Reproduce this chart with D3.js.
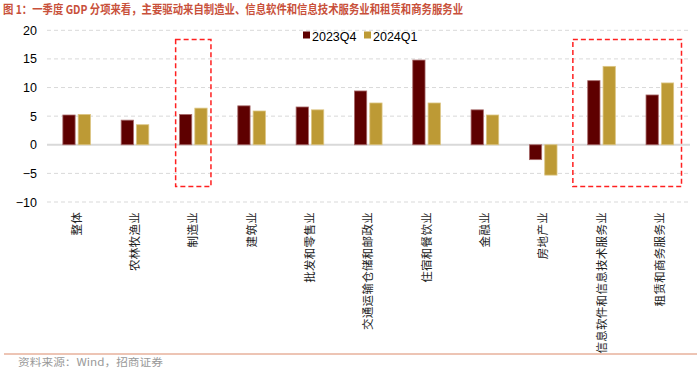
<!doctype html>
<html>
<head>
<meta charset="utf-8">
<script src="https://d3js.org/d3.v7.min.js"></script>
<style>
  body { margin: 0; background: #fff; }
  text { font-family: "Liberation Sans", Arial, sans-serif; }
  .cjk { font-family: "Noto Sans CJK SC", sans-serif; }
</style>
</head>
<body>
<script>
// data
var categories = ["整体", "农林牧渔业", "制造业", "建筑业", "批发和零售业", "交通运输仓储和邮政业",
  "住宿和餐饮业", "金融业", "房地产业", "信息软件和信息技术服务业", "租赁和商务服务业"];
var seriesNames = ["2023Q4", "2024Q1"];
var q42023 = [5.2, 4.3, 5.3, 6.8, 6.6, 9.4, 14.8, 6.1, -2.6, 11.2, 8.7];
var q1_2024 = [5.3, 3.5, 6.4, 5.9, 6.1, 7.3, 7.3, 5.2, -5.3, 13.7, 10.8];
var yTicks = [20, 15, 10, 5, 0, -5, -10];
var highlight = [["制造业"], ["信息软件和信息技术服务业", "租赁和商务服务业"]];
var boxRange = [18.4, -7.3];

var colors = ["#5E0000", "#BD9A35"];

var W = 700, H = 370;
var svg = d3.select("body").append("svg").attr("width", W).attr("height", H);

var x = d3.scaleBand().domain(categories).range([47.5, 689]).paddingInner(0).paddingOuter(0);
var y = d3.scaleLinear().domain([-10, 20]).range([202, 30.3]);
var x1 = d3.scaleBand().domain(seriesNames).range([0, x.bandwidth()]).paddingInner(0.2).paddingOuter(1.0);

// title
svg.append("text").attr("class", "cjk")
  .attr("x", 3).attr("y", 14)
  .attr("textLength", 460).attr("lengthAdjust", "spacingAndGlyphs")
  .style("font-size", "12px").style("font-weight", "bold").style("fill", "#C8503A")
  .text("图 1：一季度 GDP 分项来看，主要驱动来自制造业、信息软件和信息技术服务业和租赁和商务服务业");

// grid
svg.append("g").selectAll("line").data(yTicks).enter().append("line")
  .attr("x1", 47).attr("x2", 690)
  .attr("y1", d => y(d)).attr("y2", d => y(d))
  .style("stroke", "#D9D9D9")
  .style("stroke-width", d => d === 0 ? 2 : 1)
  .style("stroke-dasharray", d => d === 0 ? null : "4,3");

// y axis labels
var yAxis = svg.append("g").attr("transform", "translate(40,0)")
  .call(d3.axisLeft(y).tickValues(yTicks).tickSize(0).tickPadding(3));
yAxis.select(".domain").remove();
yAxis.selectAll("text").style("font-size", "12.5px").style("fill", "#000")
  .style("font-family", "'Liberation Sans', Arial, sans-serif");

// bars
var groups = svg.append("g").selectAll("g").data(categories).enter().append("g")
  .attr("transform", d => "translate(" + x(d) + ",0)");
groups.selectAll("rect").data((d, i) => [q42023[i], q1_2024[i]]).enter().append("rect")
  .attr("x", (d, j) => x1(seriesNames[j]))
  .attr("width", x1.bandwidth())
  .attr("y", d => y(Math.max(0, d)))
  .attr("height", d => Math.abs(y(d) - y(0)))
  .style("fill", (d, j) => colors[j])
  .style("stroke", (d, j) => j === 0 ? "#A86A6A" : "#DCC583")
  .style("stroke-width", 0.8);

// category labels (vertical)
svg.append("g").selectAll("text").data(categories).enter().append("text")
  .attr("class", "cjk")
  .attr("transform", d => "translate(" + (x(d) + x.bandwidth() / 2 + 4) + ",212) rotate(-90)")
  .attr("text-anchor", "end")
  .style("font-size", "11.5px").style("letter-spacing", "0.3px").style("fill", "#222")
  .text(d => d);

// highlight boxes
highlight.forEach(function(list) {
  var left = x(list[0]) + (list.length === 1 ? 11.5 : 0.5);
  var right = x(list[list.length - 1]) + x.bandwidth() - (list.length === 1 ? 11.5 : 7.5);
  svg.append("rect")
    .attr("x", left).attr("y", y(boxRange[0]))
    .attr("width", right - left).attr("height", y(boxRange[1]) - y(boxRange[0]))
    .style("fill", "none").style("stroke", "#FF2020").style("stroke-width", 1.5)
    .style("stroke-dasharray", "5,3");
});

// legend
var legend = svg.append("g").attr("transform", "translate(303,36)");
seriesNames.forEach(function(s, i) {
  var g = legend.append("g").attr("transform", "translate(" + (i * 61) + ",0)");
  g.append("rect").attr("x", 0).attr("y", -4.5).attr("width", 7).attr("height", 7).style("fill", colors[i]);
  g.append("text").attr("x", 9).attr("y", 4.5).style("font-size", "12.5px").style("fill", "#000").text(s);
});

// footer
svg.append("line").attr("x1", 4).attr("x2", 697).attr("y1", 354).attr("y2", 354)
  .style("stroke", "#DB8A6A").style("stroke-width", 1);
svg.append("text").attr("class", "cjk").attr("x", 18).attr("y", 366)
  .attr("textLength", 145).attr("lengthAdjust", "spacingAndGlyphs")
  .style("font-size", "10.5px").style("fill", "#999")
  .text("资料来源：Wind，招商证券");
</script>
</body>
</html>
